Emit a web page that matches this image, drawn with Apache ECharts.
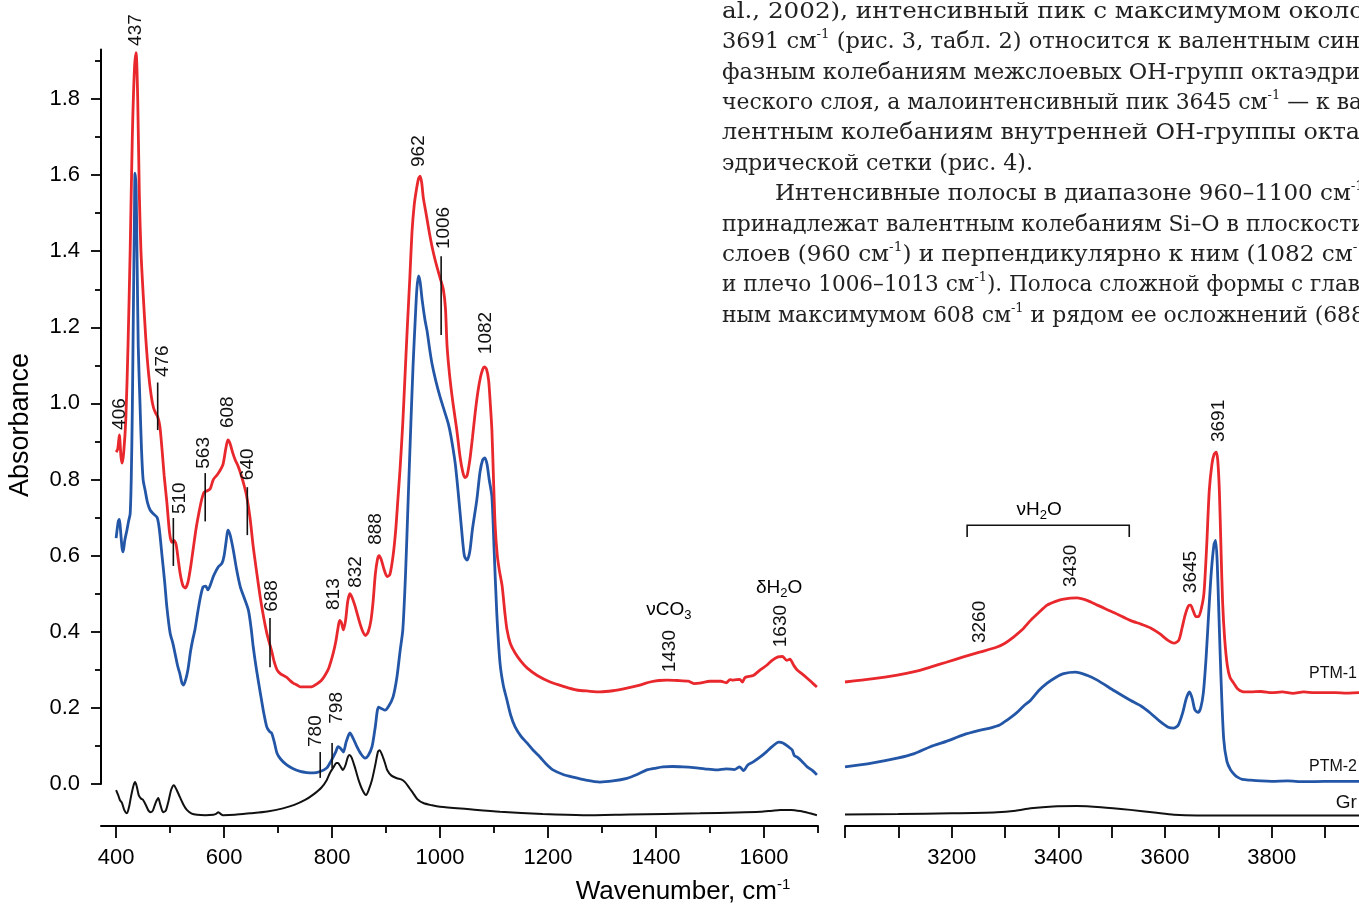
<!DOCTYPE html>
<html>
<head>
<meta charset="utf-8">
<script src="https://cdn.jsdelivr.net/npm/echarts@6/dist/echarts.min.js"></script>
<style>html,body{margin:0;padding:0;background:#fff;overflow:hidden}#c{width:1359px;height:905px}</style>
</head>
<body>
<div id="c"></div>
<script>
// ---------------- DATA ----------------
const ptm1Left = [[400,0.872],[403,0.88],[406,0.917],[409,0.86],[411,0.843],[414,0.87],[418,0.96],[422,1.15],[426,1.40],[430,1.70],[434,1.88],[437,1.922],[440,1.80],[443,1.55],[446,1.40],[450,1.29],[455,1.17],[460,1.08],[465,1.02],[469,0.99],[473,0.975],[477,0.965],[481,0.94],[485,0.88],[489,0.81],[494,0.74],[499,0.66],[503,0.635],[507,0.64],[511,0.63],[515,0.59],[519,0.55],[524,0.52],[528,0.515],[533,0.53],[538,0.57],[543,0.62],[548,0.67],[553,0.71],[558,0.745],[563,0.767],[568,0.77],[574,0.775],[580,0.80],[587,0.812],[593,0.825],[598,0.84],[603,0.88],[607,0.904],[611,0.895],[616,0.87],[621,0.85],[626,0.835],[632,0.81],[637,0.785],[642,0.755],[648,0.70],[654,0.623],[660,0.56],[667,0.49],[673,0.44],[679,0.397],[684,0.37],[688,0.35],[693,0.32],[698,0.30],[704,0.29],[710,0.285],[716,0.28],[722,0.272],[728,0.265],[735,0.26],[741,0.255],[750,0.255],[758,0.255],[765,0.257],[772,0.263],[780,0.272],[787,0.286],[794,0.305],[802,0.343],[807,0.375],[811,0.41],[814,0.43],[817,0.425],[821,0.405],[825,0.43],[829,0.48],[833,0.50],[837,0.49],[842,0.47],[847,0.445],[852,0.42],[857,0.40],[862,0.39],[867,0.40],[872,0.43],[876,0.48],[880,0.55],[884,0.59],[887,0.60],[891,0.59],[896,0.565],[902,0.545],[907,0.55],[913,0.60],[918,0.67],[922,0.75],[926,0.83],[931,0.95],[935,1.07],[939,1.19],[944,1.33],[948,1.45],[952,1.52],[956,1.56],[960,1.59],[963,1.597],[966,1.58],[969,1.54],[974,1.50],[980,1.45],[987,1.40],[994,1.36],[1000,1.33],[1006,1.30],[1010,1.25],[1013,1.15],[1018,1.07],[1024,1.00],[1031,0.93],[1037,0.86],[1042,0.82],[1046,0.805],[1050,0.81],[1055,0.85],[1060,0.91],[1065,0.975],[1070,1.03],[1075,1.07],[1079,1.09],[1082,1.096],[1086,1.09],[1090,1.06],[1093,1.00],[1096,0.93],[1099,0.80],[1102,0.68],[1106,0.60],[1110,0.56],[1115,0.52],[1120,0.45],[1124,0.405],[1130,0.37],[1139,0.344],[1150,0.322],[1161,0.305],[1180,0.285],[1204,0.268],[1230,0.256],[1253,0.247],[1275,0.244],[1296,0.242],[1320,0.245],[1346,0.252],[1370,0.26],[1389,0.268],[1405,0.272],[1420,0.273],[1440,0.272],[1460,0.27],[1470,0.264],[1481,0.265],[1500,0.27],[1520,0.27],[1530,0.266],[1537,0.274],[1543,0.273],[1555,0.275],[1560,0.268],[1565,0.28],[1580,0.285],[1593,0.30],[1605,0.312],[1615,0.325],[1626,0.334],[1634,0.335],[1642,0.325],[1648,0.328],[1655,0.312],[1661,0.30],[1670,0.29],[1680,0.278],[1690,0.265],[1698,0.255]];

const ptm2Left = [[400,0.646],[402,0.67],[404,0.69],[406,0.695],[408,0.67],[411,0.62],[413,0.61],[416,0.64],[420,0.667],[423,0.69],[426,0.71],[428,0.80],[430,0.98],[432,1.25],[434,1.50],[435,1.605],[437,1.57],[439,1.36],[441,1.15],[444,1.01],[447,0.88],[450,0.80],[454,0.77],[458,0.74],[463,0.72],[469,0.71],[476,0.70],[480,0.67],[485,0.60],[490,0.53],[494,0.465],[500,0.397],[505,0.37],[509,0.344],[514,0.31],[518,0.29],[522,0.265],[525,0.26],[529,0.275],[533,0.30],[538,0.35],[542,0.38],[546,0.405],[551,0.45],[556,0.49],[561,0.518],[566,0.52],[570,0.51],[575,0.525],[580,0.545],[585,0.56],[589,0.57],[596,0.58],[600,0.60],[604,0.64],[607,0.667],[611,0.655],[617,0.615],[623,0.565],[630,0.518],[637,0.49],[645,0.457],[650,0.41],[654,0.36],[660,0.30],[667,0.24],[673,0.19],[679,0.15],[684,0.138],[688,0.134],[693,0.11],[698,0.081],[705,0.065],[716,0.05],[728,0.04],[741,0.033],[753,0.03],[765,0.029],[778,0.033],[790,0.042],[796,0.055],[802,0.071],[807,0.085],[811,0.098],[816,0.093],[821,0.084],[826,0.11],[833,0.134],[839,0.12],[846,0.098],[853,0.08],[861,0.068],[867,0.075],[874,0.098],[880,0.15],[886,0.202],[892,0.198],[898,0.194],[905,0.205],[913,0.229],[920,0.28],[926,0.35],[931,0.405],[936,0.55],[941,0.75],[946,0.95],[950,1.10],[954,1.22],[957,1.30],[960,1.335],[963,1.32],[967,1.27],[972,1.22],[976,1.19],[981,1.14],[985,1.105],[992,1.06],[1000,1.017],[1007,0.985],[1015,0.948],[1020,0.915],[1028,0.843],[1034,0.76],[1040,0.667],[1045,0.60],[1050,0.588],[1055,0.61],[1060,0.67],[1068,0.746],[1074,0.82],[1079,0.852],[1083,0.857],[1087,0.84],[1091,0.80],[1096,0.755],[1100,0.62],[1105,0.45],[1111,0.318],[1117,0.26],[1124,0.22],[1131,0.18],[1139,0.15],[1150,0.125],[1161,0.108],[1173,0.088],[1185,0.071],[1197,0.052],[1209,0.037],[1228,0.025],[1246,0.018],[1270,0.01],[1296,0.005],[1320,0.008],[1346,0.015],[1365,0.025],[1383,0.037],[1400,0.042],[1413,0.045],[1430,0.046],[1450,0.045],[1470,0.043],[1490,0.04],[1512,0.037],[1530,0.04],[1545,0.038],[1555,0.045],[1562,0.035],[1570,0.05],[1580,0.058],[1593,0.071],[1605,0.085],[1615,0.098],[1627,0.11],[1635,0.108],[1645,0.098],[1652,0.09],[1656,0.075],[1661,0.071],[1670,0.06],[1680,0.045],[1690,0.035],[1698,0.024]];

const grLeft = [[400,-0.016],[404,-0.03],[407,-0.042],[411,-0.05],[415,-0.068],[420,-0.077],[424,-0.06],[428,-0.03],[432,-0.005],[435,0.005],[438,-0.005],[442,-0.03],[446,-0.038],[450,-0.042],[455,-0.055],[460,-0.07],[464,-0.074],[468,-0.07],[473,-0.05],[478,-0.037],[482,-0.055],[487,-0.074],[492,-0.07],[497,-0.045],[502,-0.015],[507,-0.003],[512,-0.015],[518,-0.034],[525,-0.055],[531,-0.068],[540,-0.078],[550,-0.081],[565,-0.082],[580,-0.081],[586,-0.078],[589,-0.074],[593,-0.078],[598,-0.082],[620,-0.081],[648,-0.077],[680,-0.072],[709,-0.064],[730,-0.055],[750,-0.042],[765,-0.028],[780,-0.01],[790,0.01],[796,0.029],[803,0.045],[808,0.055],[811,0.055],[816,0.045],[820,0.037],[825,0.05],[829,0.07],[832,0.076],[836,0.07],[842,0.045],[849,0.011],[856,-0.015],[863,-0.029],[868,-0.015],[874,0.011],[880,0.05],[885,0.085],[888,0.089],[893,0.075],[898,0.055],[902,0.037],[910,0.022],[920,0.015],[928,0.012],[935,0.005],[942,-0.008],[950,-0.024],[958,-0.04],[969,-0.05],[985,-0.056],[1000,-0.06],[1050,-0.066],[1111,-0.073],[1190,-0.079],[1265,-0.082],[1350,-0.08],[1481,-0.077],[1550,-0.075],[1593,-0.073],[1615,-0.07],[1630,-0.068],[1650,-0.068],[1667,-0.071],[1685,-0.077],[1698,-0.082]];

const ptm1Right = [[3000,0.268],[3050,0.276],[3098,0.286],[3130,0.295],[3160,0.307],[3190,0.32],[3222,0.334],[3254,0.347],[3285,0.36],[3300,0.37],[3316,0.386],[3332,0.405],[3348,0.43],[3363,0.45],[3379,0.47],[3395,0.48],[3410,0.486],[3435,0.489],[3455,0.482],[3473,0.47],[3505,0.45],[3535,0.43],[3555,0.42],[3573,0.41],[3590,0.395],[3605,0.378],[3617,0.37],[3626,0.378],[3632,0.41],[3638,0.445],[3644,0.468],[3648,0.47],[3653,0.455],[3658,0.44],[3663,0.44],[3668,0.46],[3673,0.50],[3678,0.62],[3683,0.77],[3688,0.84],[3692,0.866],[3696,0.872],[3699,0.85],[3702,0.77],[3705,0.62],[3708,0.48],[3712,0.38],[3717,0.31],[3722,0.28],[3729,0.265],[3736,0.25],[3745,0.243],[3760,0.242],[3780,0.243],[3800,0.24],[3820,0.242],[3840,0.238],[3860,0.242],[3880,0.24],[3900,0.24],[3920,0.24],[3940,0.239],[3965,0.24],[3990,0.24]];

const ptm2Right = [[3000,0.045],[3050,0.055],[3098,0.068],[3130,0.08],[3160,0.098],[3190,0.112],[3222,0.129],[3250,0.14],[3272,0.147],[3290,0.155],[3304,0.168],[3320,0.185],[3335,0.205],[3348,0.22],[3363,0.245],[3379,0.265],[3395,0.28],[3410,0.29],[3432,0.294],[3455,0.285],[3473,0.273],[3505,0.245],[3535,0.22],[3555,0.205],[3573,0.186],[3590,0.165],[3605,0.15],[3617,0.147],[3625,0.155],[3633,0.186],[3640,0.225],[3646,0.242],[3651,0.225],[3656,0.195],[3662,0.188],[3667,0.2],[3672,0.24],[3677,0.33],[3682,0.45],[3687,0.56],[3692,0.63],[3695,0.64],[3698,0.58],[3701,0.45],[3705,0.28],[3710,0.12],[3716,0.06],[3723,0.037],[3730,0.025],[3736,0.018],[3745,0.012],[3760,0.01],[3780,0.008],[3800,0.007],[3830,0.008],[3860,0.006],[3900,0.007],[3940,0.007],[3990,0.007]];

const grRight = [[3000,-0.08],[3100,-0.079],[3200,-0.077],[3285,-0.074],[3320,-0.07],[3348,-0.064],[3390,-0.059],[3435,-0.058],[3480,-0.061],[3535,-0.068],[3580,-0.075],[3617,-0.081],[3660,-0.083],[3750,-0.083],[3850,-0.083],[3990,-0.083]];

// tick values
const yMajorTicks = [0, 0.2, 0.4, 0.6, 0.8, 1.0, 1.2, 1.4, 1.6, 1.8];
const yMinorTicks = [0.1, 0.3, 0.5, 0.7, 0.9, 1.1, 1.3, 1.5, 1.7, 1.9];
const xLeftMajor = [400, 600, 800, 1000, 1200, 1400, 1600];
const xLeftMinor = [500, 700, 900, 1100, 1300, 1500, 1700];
const xRightTicks = [3000, 3100, 3200, 3300, 3400, 3500, 3600, 3700, 3800, 3900, 4000];
const xRightLabels = [3200, 3400, 3600, 3800];

// annotations (wavenumber, absorbance, text)
const leftPeakLabels = [[437,1.981,'437'],[406,0.972,'406'],[487,1.111,'476'],[518,0.751,'510'],[563,0.87,'563'],[607,0.977,'608'],[644,0.84,'640'],[689,0.494,'688'],[804,0.499,'813'],[843,0.557,'832'],[881,0.67,'888'],[770,0.139,'780'],[809,0.2,'798'],[961,1.663,'962'],[1006,1.461,'1006'],[1085,1.185,'1082'],[1426,0.349,'1430'],[1631,0.415,'1630']];
const leftMarkTicks = [[477,0.93,1.055],[506,0.573,0.699],[565,0.69,0.817],[643,0.654,0.78],[685,0.307,0.436],[778,0.016,0.084],[800,0.042,0.108],[1002,1.18,1.387]];
const leftBandLabels = [[1424,0.457,'ν','CO','3',''],[1628,0.515,'δ','H','2','O']];
const rightPeakLabels = [[3252,0.426,'3260'],[3424,0.573,'3430'],[3648,0.557,'3645'],[3700,0.954,'3691']];
const rightBandLabel = [[3364,0.72,'ν','H','2','O']];
const rightBracket = [[3229,3533,0.68,0.649]];
const seriesNames = [[3870,0.289,'PTM-1'],[3870,0.047,'PTM-2'],[3920,-0.05,'Gr']];

// page text (strings beginning with ^ are superscripts)
const textBlockLines = [
  ["al., 2002), интенсивный пик с максимумом около"],
  ["3691 см", "^-1", " (рис. 3, табл. 2) относится к валентным син"],
  ["фазным колебаниям межслоевых ОН-групп октаэдри"],
  ["ческого слоя, а малоинтенсивный пик 3645 см", "^-1", " — к ва"],
  ["лентным колебаниям внутренней ОН-группы окта"],
  ["эдрической сетки (рис. 4)."],
  ["Интенсивные полосы в диапазоне 960–1100 см", "^-1"],
  ["принадлежат валентным колебаниям Si–O в плоскости"],
  ["слоев (960 см", "^-1", ") и перпендикулярно к ним (1082 см", "^-1"],
  ["и плечо 1006–1013 см", "^-1", "). Полоса сложной формы с глав"],
  ["ным максимумом 608 см", "^-1", " и рядом ее осложнений (688"]
];

// ---------------- STYLE / LAYOUT ----------------
const SANS = "'Liberation Sans', Arial, Helvetica, sans-serif";
const SERIF = "'DejaVu Serif', 'Liberation Serif', serif";
const RED = '#e8282c', BLUE = '#2356a6', BLACK = '#111111';
const TXT = 22, SUP = 13;
const lineStart = [722,722,722,722,722,722,775,722,722,722,722];
const lineEnd = [1364,1360,1360,1362,1360,1033,1364,1366,1366,1360,1365];
const baseY0 = 20, lineStep = 30.4;

const chart = echarts.init(document.getElementById('c'), null, {renderer:'canvas'});

const mctx = document.createElement('canvas').getContext('2d');
function measure(parts){
  let w = 0;
  parts.forEach(p => {
    if (p.startsWith('^')) { mctx.font = SUP + 'px ' + SERIF; w += mctx.measureText(p.slice(1)).width; }
    else { mctx.font = TXT + 'px ' + SERIF; w += mctx.measureText(p).width; }
  });
  return w;
}
function richString(parts){
  return parts.map(p => p.startsWith('^') ? '{s|' + p.slice(1) + '}' : '{n|' + p + '}').join('');
}
const textGraphics = textBlockLines.map((parts, k) => {
  const w = measure(parts);
  const sx = (lineEnd[k] - lineStart[k]) / w;
  return {
    type:'text', x: lineStart[k], y: baseY0 + lineStep*k - 8, scaleX: sx, scaleY: 1, originX:0, originY:0, silent:true,
    style:{
      text: richString(parts), fill:'#222', align:'left', verticalAlign:'middle', textAlign:'left', textVerticalAlign:'middle',
      rich:{
        n:{fontSize:TXT, fontFamily:SERIF, color:'#222', lineHeight:28},
        s:{fontSize:SUP, fontFamily:SERIF, color:'#222', lineHeight:15, verticalAlign:'top'}
      }
    }
  };
});

function rotLabelRender(list){
  return function(params, api){
    const d = list[params.dataIndex];
    const p = api.coord([d[0], d[1]]);
    return {type:'text', x:p[0], y:p[1], rotation: Math.PI/2, silent:true,
      style:{text:d[2], fill:BLACK, font:'19px ' + SANS, fontSize:19, fontFamily:SANS,
             align:'center', verticalAlign:'middle', textAlign:'center', textVerticalAlign:'middle'}};
  };
}
function bandRender(list){
  return function(params, api){
    const d = list[params.dataIndex];
    const p = api.coord([d[0], d[1]]);
    return {type:'text', x:p[0], y:p[1], silent:true,
      style:{text:'{a|' + d[2] + d[3] + '}{b|' + d[4] + '}' + (d[5] ? '{a|' + d[5] + '}' : ''),
             align:'center', verticalAlign:'middle', textAlign:'center', textVerticalAlign:'middle',
             rich:{a:{fontSize:19, fontFamily:SANS, color:BLACK, lineHeight:24},
                   b:{fontSize:13, fontFamily:SANS, color:BLACK, lineHeight:14, verticalAlign:'bottom'}}}};
  };
}
function tickRender(list){
  return function(params, api){
    const d = list[params.dataIndex];
    const a = api.coord([d[0], d[1]]), b = api.coord([d[0], d[2]]);
    return {type:'line', silent:true, shape:{x1:a[0], y1:a[1], x2:b[0], y2:b[1]}, style:{stroke:BLACK, lineWidth:1.6}};
  };
}
function bracketRender(list){
  return function(params, api){
    const d = list[params.dataIndex];
    const p1 = api.coord([d[0], d[3]]), p2 = api.coord([d[0], d[2]]), p3 = api.coord([d[1], d[2]]), p4 = api.coord([d[1], d[3]]);
    return {type:'polyline', silent:true, shape:{points:[p1,p2,p3,p4]}, style:{stroke:BLACK, lineWidth:1.6, fill:null}};
  };
}
function nameRender(list){
  return function(params, api){
    const d = list[params.dataIndex];
    const p = api.coord([d[0], d[1]]);
    const fs = d[2] === 'Gr' ? 19 : 16;
    return {type:'text', x:p[0], y:p[1], silent:true,
      style:{text:d[2], fill:BLACK, font:fs + 'px ' + SANS, fontSize:fs, fontFamily:SANS, align:'left', verticalAlign:'middle', textAlign:'left', textVerticalAlign:'middle'}};
  };
}

const axisLineStyle = {color:'#000', width:2};
const tickStyle = {color:'#000', width:1.8};
const numFmt = v => String(Math.round(v));
function lineSeries(data, color, width, xi, yi){
  return {type:'line', data:data, xAxisIndex:xi, yAxisIndex:yi, showSymbol:false, symbol:'none', smooth:0.25,
          clip:false, silent:true, lineStyle:{color:color, width:width}, itemStyle:{color:color}, z:3};
}

const option = {
  animation:false,
  backgroundColor:'#ffffff',
  grid:[
    {left:101, right:541, top:49.5, bottom:121, containLabel:false, outerBoundsMode:'none'},
    {left:845, width:533.3, top:49.5, bottom:121, containLabel:false, outerBoundsMode:'none'}
  ],
  xAxis:[
    {gridIndex:0, type:'value', min:372, max:1700, position:'bottom', offset:42,
     axisLine:{show:true, onZero:false, lineStyle:axisLineStyle},
     axisTick:{show:true, length:12, inside:false, customValues:xLeftMajor, lineStyle:tickStyle},
     axisLabel:{show:true, customValues:xLeftMajor, formatter:numFmt, margin:21, fontSize:22, fontFamily:SANS, color:'#000'},
     splitLine:{show:false}, minorTick:{show:false}},
    {gridIndex:0, type:'value', min:372, max:1700, position:'bottom', offset:42,
     axisLine:{show:false, onZero:false},
     axisTick:{show:true, length:7, inside:false, customValues:xLeftMinor, lineStyle:tickStyle},
     axisLabel:{show:false, customValues:xLeftMinor},
     splitLine:{show:false}},
    {gridIndex:1, type:'value', min:3000, max:4000, position:'bottom', offset:42,
     axisLine:{show:true, onZero:false, lineStyle:axisLineStyle},
     axisTick:{show:true, length:12, inside:false, customValues:xRightTicks, lineStyle:tickStyle},
     axisLabel:{show:true, customValues:xRightLabels, formatter:numFmt, margin:21, fontSize:22, fontFamily:SANS, color:'#000'},
     splitLine:{show:false}}
  ],
  yAxis:[
    {gridIndex:0, type:'value', min:0, max:1.93, position:'left',
     axisLine:{show:true, onZero:false, lineStyle:axisLineStyle},
     axisTick:{show:true, length:10, inside:false, customValues:yMajorTicks, lineStyle:tickStyle},
     axisLabel:{show:true, customValues:yMajorTicks, formatter:v => Number(v).toFixed(1), margin:21, fontSize:22, fontFamily:SANS, color:'#000'},
     splitLine:{show:false}},
    {gridIndex:0, type:'value', min:0, max:1.93, position:'left',
     axisLine:{show:false, onZero:false},
     axisTick:{show:true, length:6, inside:false, customValues:yMinorTicks, lineStyle:tickStyle},
     axisLabel:{show:false, customValues:yMinorTicks},
     splitLine:{show:false}},
    {gridIndex:1, type:'value', min:0, max:1.93, show:false,
     axisLine:{show:false}, axisTick:{show:false}, axisLabel:{show:false}, splitLine:{show:false}}
  ],
  series:[
    lineSeries(grLeft, BLACK, 2, 0, 0),
    lineSeries(ptm2Left, BLUE, 2.8, 0, 0),
    lineSeries(ptm1Left, RED, 2.8, 0, 0),
    lineSeries(grRight, BLACK, 2, 2, 2),
    lineSeries(ptm2Right, BLUE, 2.8, 2, 2),
    lineSeries(ptm1Right, RED, 2.8, 2, 2),
    {type:'custom', xAxisIndex:0, yAxisIndex:0, clip:false, silent:true, z:5,
     data:leftPeakLabels.map(d => [d[0], d[1]]), renderItem:rotLabelRender(leftPeakLabels)},
    {type:'custom', xAxisIndex:0, yAxisIndex:0, clip:false, silent:true, z:5,
     data:leftMarkTicks.map(d => [d[0], d[1], d[2]]), renderItem:tickRender(leftMarkTicks)},
    {type:'custom', xAxisIndex:0, yAxisIndex:0, clip:false, silent:true, z:5,
     data:leftBandLabels.map(d => [d[0], d[1]]), renderItem:bandRender(leftBandLabels)},
    {type:'custom', xAxisIndex:2, yAxisIndex:2, clip:false, silent:true, z:5,
     data:rightPeakLabels.map(d => [d[0], d[1]]), renderItem:rotLabelRender(rightPeakLabels)},
    {type:'custom', xAxisIndex:2, yAxisIndex:2, clip:false, silent:true, z:5,
     data:rightBandLabel.map(d => [d[0], d[1]]), renderItem:bandRender(rightBandLabel)},
    {type:'custom', xAxisIndex:2, yAxisIndex:2, clip:false, silent:true, z:5,
     data:rightBracket.map(d => [d[0], d[2]]), renderItem:bracketRender(rightBracket)},
    {type:'custom', xAxisIndex:2, yAxisIndex:2, clip:false, silent:true, z:5,
     data:seriesNames.map(d => [d[0], d[1]]), renderItem:nameRender(seriesNames)}
  ],
  graphic:[
    {type:'text', x:21, y:425, rotation:Math.PI/2, silent:true,
     style:{text:'Absorbance', fill:'#000', font:'27px ' + SANS, fontSize:27, fontFamily:SANS,
            align:'center', verticalAlign:'middle', textAlign:'center', textVerticalAlign:'middle'}},
    {type:'text', x:683, y:892, silent:true,
     style:{text:'{a|Wavenumber, cm}{s|-1}', align:'center', verticalAlign:'middle', textAlign:'center', textVerticalAlign:'middle',
            rich:{a:{fontSize:26, fontFamily:SANS, color:'#000', lineHeight:30},
                  s:{fontSize:15, fontFamily:SANS, color:'#000', lineHeight:16, verticalAlign:'top'}}}}
  ].concat(textGraphics)
};
chart.setOption(option);
</script>
</body>
</html>
